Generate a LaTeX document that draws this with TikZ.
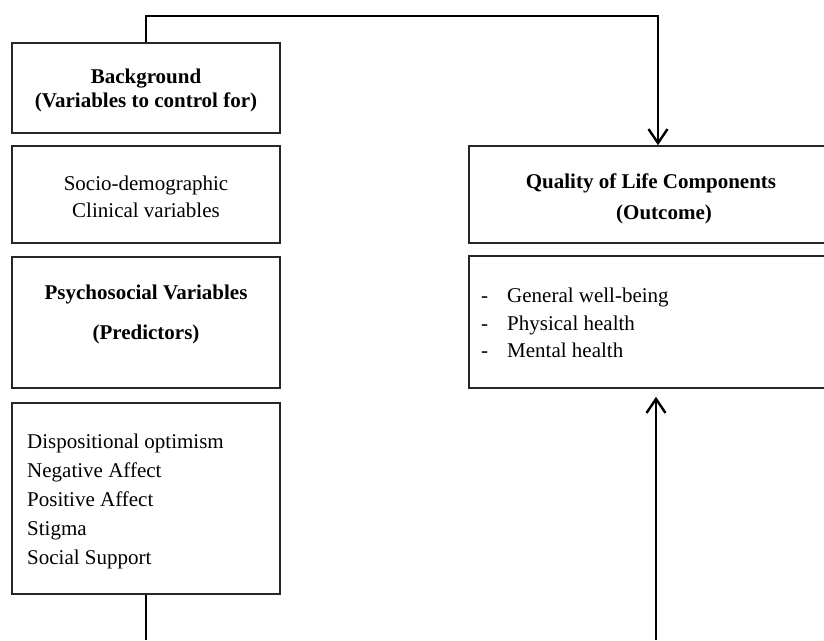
\documentclass[tikz,border=0pt]{standalone}
\usepackage{fontspec}
\setmainfont{Liberation Serif}
\usepackage{tikz}
\usetikzlibrary{arrows.meta}

\begin{document}
\begin{tikzpicture}[
    x=1pt, y=-1pt,
    box/.style = {draw=black!85, line width=1.6pt, inner sep=0pt},
    txt/.style = {inner sep=0pt, font=\fontsize{21}{24}\selectfont},
    conn/.style = {line width=2.8pt},
    tip/.style = {-{Straight Barb[length=14pt,width=19pt,line width=2.4pt]}}
  ]
    \useasboundingbox (0,0) rectangle (824,640);
    \clip (0,0) rectangle (824,640);
    % left column
    \node[box, minimum width=268pt, minimum height=90pt] (bg) at (146,88) {};
    \node[box, minimum width=268pt, minimum height=97pt] (bgvars) at (146,194.5) {};
    \node[box, minimum width=268pt, minimum height=131pt] (psy) at (146,322.5) {};
    \node[box, minimum width=268pt, minimum height=191pt] (preds) at (146,498.5) {};
    % right column
    \node[box, minimum width=361pt, minimum height=97pt] (qol) at (649.5,194.5) {};
    \node[box, minimum width=361pt, minimum height=132pt] (qollist) at (649.5,322) {};

    \node[txt, align=center] (bgtxt) at (146,90) {\textbf{Background}\\\textbf{(Variables to control for)}};
    \node[txt, align=center, font=\fontsize{21}{27}\selectfont] (bgvarstxt) at (146,197) {Socio-demographic\\Clinical variables};
    \node[txt, align=center] (psytxt) at (146,314) {\textbf{Psychosocial Variables}\\[16pt]\textbf{(Predictors)}};
    \node[txt, align=left, anchor=west, font=\fontsize{21}{29}\selectfont] (predstxt) at (27,501)
      {Dispositional optimism\\Negative Affect\\Positive Affect\\Stigma\\Social Support};
    \node[txt, align=center, font=\fontsize{21}{31}\selectfont] (qoltxt) at (651,199)
      {\textbf{Quality of Life Components}\\\hspace*{26pt}\textbf{(Outcome)}};
    \node[txt, align=left, anchor=west, font=\fontsize{21}{27.5}\selectfont] (qollisttxt) at (481,323)
      {\makebox[26pt][l]{-}General well-being\\\makebox[26pt][l]{-}Physical health\\\makebox[26pt][l]{-}Mental health};

    % connectors
    \coordinate (tr) at (658,16);
    \coordinate (bl) at (146,640);
    \coordinate (br) at (656,640);
    \draw[conn, tip] (bg.north) |- (tr) -- (tr |- qol.north);
    \draw[conn] (preds.south) -- (bl);
    \draw[conn, tip, shorten >=8pt] (br) -- (br |- qollist.south);
\end{tikzpicture}
\end{document}
